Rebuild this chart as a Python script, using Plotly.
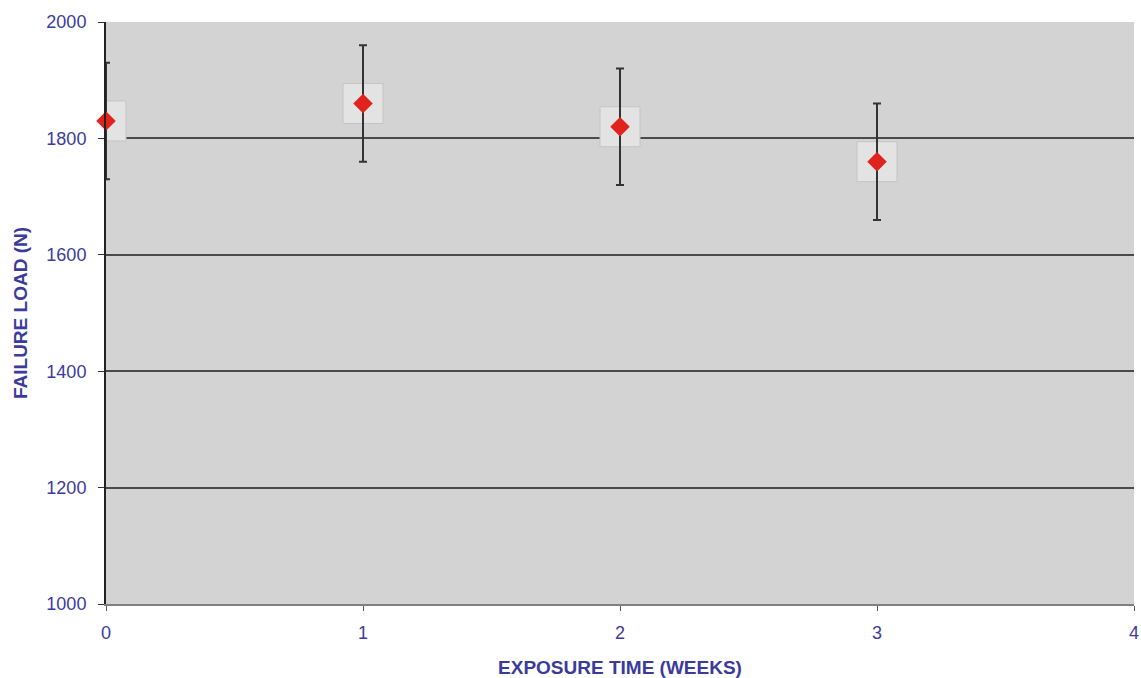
import plotly.graph_objects as go

weeks = [0, 1, 2, 3]
failure_load = [1830, 1860, 1820, 1760]
load_error = [100, 100, 100, 100]
x_ticks = [0, 1, 2, 3, 4]
y_ticks = [1000, 1200, 1400, 1600, 1800, 2000]

blue = "#3b3b9c"
fig = go.Figure()

# gray speckled squares behind the markers
fig.add_trace(go.Scatter(
    x=weeks, y=failure_load, mode="markers",
    marker=dict(symbol="square", size=40, color="#e3e3e3",
                line=dict(color="#c4c4c4", width=1)),
    hoverinfo="skip", showlegend=False, cliponaxis=True))

fig.add_trace(go.Scatter(
    x=weeks, y=failure_load, mode="markers",
    error_y=dict(type="data", array=load_error, visible=True,
                 color="#333333", thickness=2, width=4),
    marker=dict(symbol="diamond", size=15, color="#e0231c"),
    showlegend=False, cliponaxis=False))

fig.update_layout(
    width=1141, height=678,
    margin=dict(l=106, r=7, t=22, b=74),
    paper_bgcolor="white",
    plot_bgcolor="#d3d3d3",
    font=dict(family="Liberation Sans, Arial", color=blue, size=18),
    xaxis=dict(range=[0, 4], tickvals=x_ticks, showgrid=False, zeroline=False,
               automargin=False,
               showline=True, linecolor="#808080", linewidth=2,
               ticks="outside", ticklen=5, tickcolor="#555555",
               ticklabelstandoff=6,
               title=dict(text="<b>EXPOSURE TIME (WEEKS)</b>", font=dict(size=19, color=blue), standoff=22),
               tickfont=dict(size=18, color=blue)),
    yaxis=dict(range=[1000, 2000], tickvals=y_ticks, showgrid=True,
               gridcolor="#4a4a4a", gridwidth=2, zeroline=False,
               automargin=False,
               showline=True, linecolor="#222222", linewidth=2,
               ticks="outside", ticklen=6, tickcolor="#333333",
               ticklabelstandoff=8,
               title=dict(text="<b>FAILURE LOAD (N)</b>", font=dict(size=19, color=blue), standoff=14),
               tickfont=dict(size=18, color=blue)),
)

fig.write_html("out.html")
